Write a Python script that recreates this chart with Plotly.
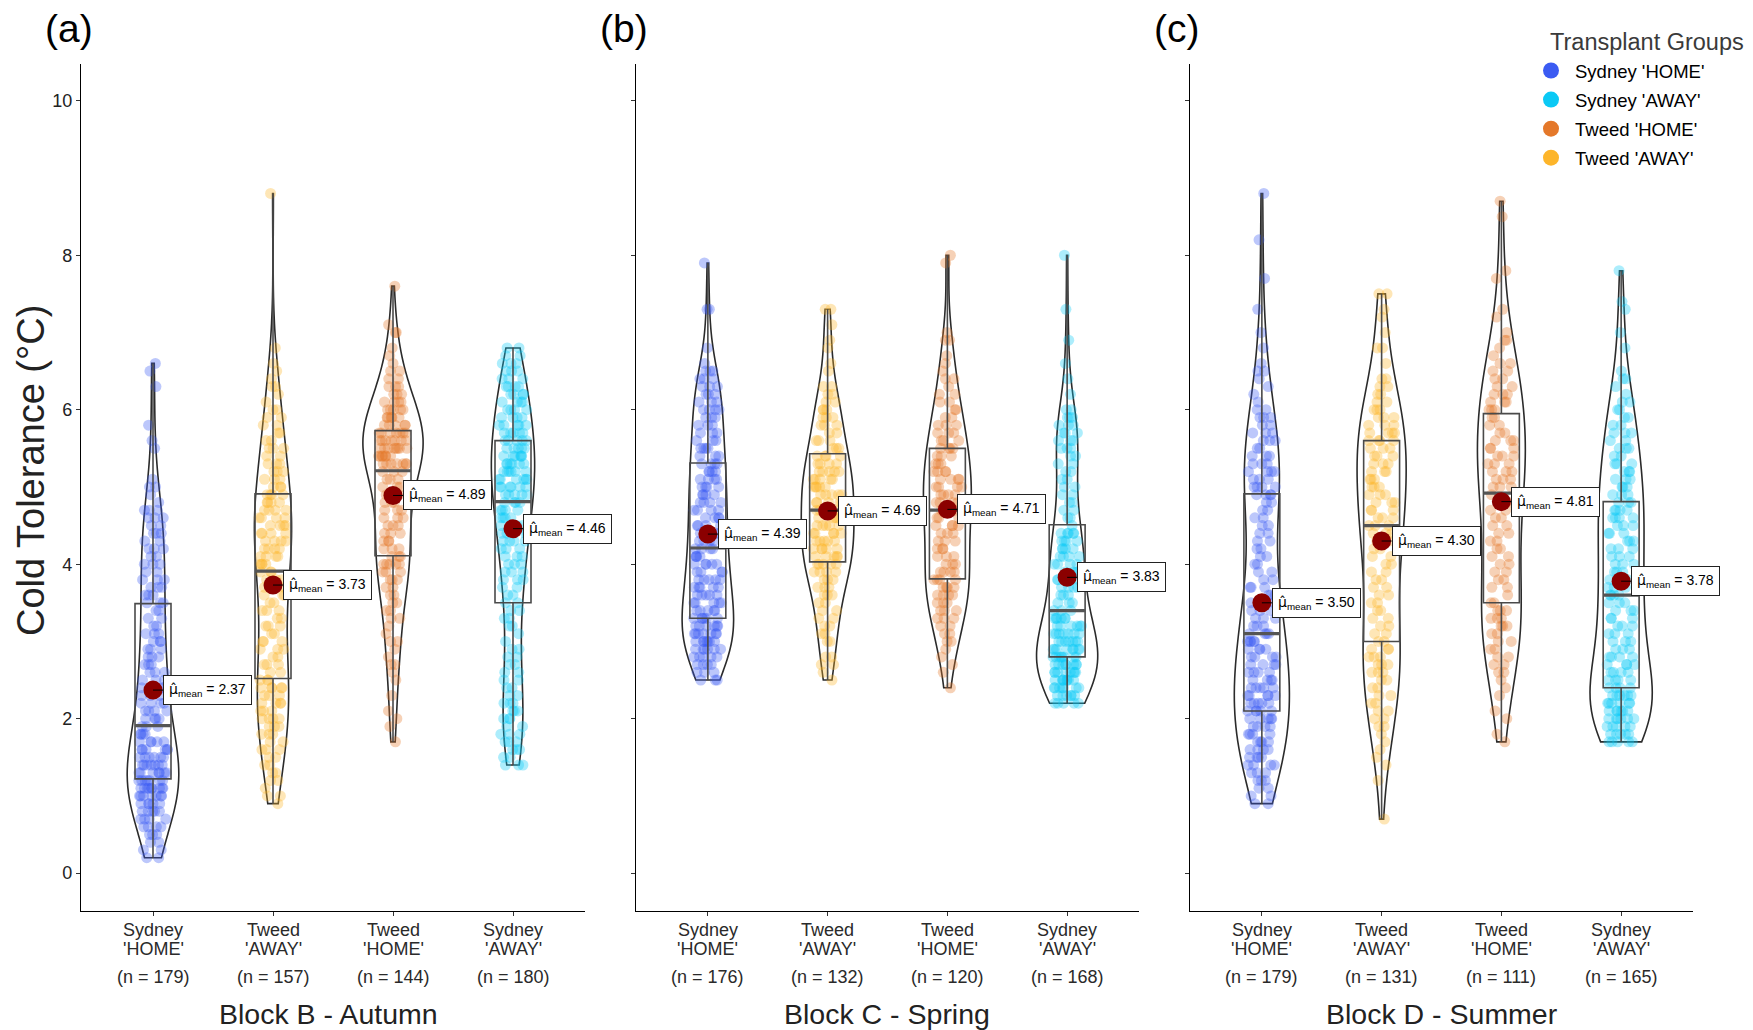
import numpy as np
import plotly.graph_objects as go

W, H = 1753, 1030
FONT = "Liberation Sans, Arial, sans-serif"

PLACES = ["Sydney", "Tweed", "Tweed", "Sydney"]
STATUSES = ["'HOME'", "'AWAY'", "'HOME'", "'AWAY'"]
BLOCK_TITLES = ["Block B - Autumn", "Block C - Spring", "Block D - Summer"]
PANEL_TAGS = ["(a)", "(b)", "(c)"]
LEGEND_TITLE = "Transplant Groups"
LEGEND_GROUPS = ["Sydney 'HOME'", "Sydney 'AWAY'", "Tweed 'HOME'", "Tweed 'AWAY'"]
GROUP_COLORS = ["#3B5BF2", "#0BC9F5", "#E4782A", "#FDB52A"]

# Cold tolerance (°C) recorded at 0.1 °C steps: lowest reading per group,
# then the number of plants at each successive 0.1 °C step.
autumn_starts = [0.2, 0.9, 1.7, 1.4]
autumn_sydney_home = [2, 2, 2, 3, 4, 4, 5, 5, 7, 9, 7, 7, 7, 6, 6, 5, 4, 3, 4, 4, 4, 3, 3, 3, 3, 3, 3, 3, 3, 3,
                      2, 2, 2, 3, 3, 3, 3, 2, 3, 2, 3, 2, 3, 2, 3, 3, 1, 1, 2, 1, 0, 0, 0, 1, 1, 0, 1, 0, 0, 0,
                      0, 1, 0, 1, 1]
autumn_tweed_away = [1, 2, 1, 2, 2, 2, 2, 3, 2, 3, 3, 4, 3, 4, 3, 5, 3, 2, 3, 2, 3, 3, 2, 3, 2, 3, 2, 3, 2, 3,
                     3, 4, 4, 4, 4, 4, 4, 4, 4, 4, 4, 3, 3, 3, 3, 2, 3, 2, 2, 2, 2, 2, 1, 1, 2, 1, 1, 1, 0, 1,
                     0, 0, 0, 0, 0, 0, 0, 0, 0, 0, 0, 0, 0, 0, 0, 0, 0, 0, 0, 1]
autumn_tweed_home = [1, 0, 1, 1, 1, 0, 1, 0, 1, 1, 2, 1, 1, 2, 1, 1, 2, 2, 2, 2, 2, 3, 3, 5, 3, 3, 3, 3, 3, 3,
                     3, 3, 3, 3, 3, 3, 7, 7, 8, 7, 7, 5, 5, 5, 4, 3, 3, 2, 2, 1, 1, 1, 0, 2, 1, 0, 0, 0, 0, 1]
autumn_sydney_away = [3, 2, 3, 3, 3, 2, 3, 3, 3, 2, 2, 2, 2, 2, 2, 2, 1, 1, 2, 2, 2, 2, 2, 2, 3, 3, 3, 3, 3, 4,
                      4, 4, 4, 4, 4, 5, 6, 6, 6, 6, 6, 5, 5, 5, 5, 4, 4, 4, 4, 4, 3, 3, 3, 2, 2]

spring_starts = [2.5, 2.5, 2.4, 2.2]
spring_sydney_home = [3, 3, 4, 5, 6, 7, 7, 6, 6, 5, 5, 5, 5, 5, 4, 5, 4, 4, 4, 4, 4, 4, 4, 4, 4, 4, 4, 4, 4, 3,
                      4, 3, 3, 3, 3, 4, 3, 3, 3, 3, 3, 1, 0, 1, 0, 0, 0, 0, 2, 0, 0, 0, 0, 0, 1]
spring_tweed_away = [1, 1, 2, 2, 0, 2, 2, 2, 2, 2, 2, 3, 3, 3, 4, 5, 5, 5, 5, 5, 5, 4, 4, 5, 5, 5, 5, 5, 4, 4,
                     3, 3, 2, 3, 3, 3, 2, 2, 2, 0, 1, 1, 0, 1, 1, 0, 1, 0, 2]
spring_tweed_home = [1, 0, 1, 1, 1, 1, 2, 2, 2, 3, 3, 3, 4, 4, 4, 4, 3, 3, 3, 3, 3, 4, 3, 4, 4, 4, 4, 4, 4, 3,
                     3, 4, 3, 3, 3, 2, 2, 2, 2, 1, 2, 1, 1, 1, 0, 2, 1, 0, 0, 0, 0, 0, 0, 0, 0, 1, 1]
spring_sydney_away = [5, 6, 7, 8, 8, 8, 8, 8, 7, 7, 6, 6, 3, 3, 3, 4, 4, 4, 4, 4, 4, 4, 5, 1, 2, 2, 2, 2, 2, 2,
                      2, 2, 2, 3, 3, 3, 3, 3, 2, 0, 1, 0, 1, 0, 1, 0, 0, 1, 0, 0, 0, 1, 0, 0, 0, 0, 0, 0, 1]

summer_starts = [0.9, 0.7, 1.7, 1.7]
summer_sydney_home = [2, 2, 2, 3, 3, 4, 4, 4, 4, 4, 4, 5, 5, 5, 5, 5, 4, 4, 4, 4, 4, 5, 4, 3, 3, 3, 3, 3, 3, 2,
                      2, 2, 2, 2, 2, 2, 2, 2, 2, 2, 4, 4, 3, 4, 3, 3, 2, 3, 3, 2, 3, 2, 1, 1, 1, 1, 2, 1, 0, 1,
                      0, 1, 0, 0, 1, 0, 0, 0, 1, 0, 0, 0, 0, 1, 0, 0, 0, 0, 0, 1]
summer_tweed_away = [1, 0, 0, 0, 0, 1, 0, 1, 1, 1, 1, 1, 2, 2, 2, 2, 2, 2, 2, 3, 3, 3, 3, 2, 2, 2, 2, 2, 2, 2,
                     2, 2, 2, 2, 2, 2, 3, 3, 3, 3, 3, 3, 3, 3, 3, 3, 3, 3, 3, 4, 4, 3, 3, 3, 2, 2, 2, 2, 0, 1,
                     0, 2, 0, 1, 0, 1, 1, 0, 2]
summer_tweed_home = [1, 1, 0, 1, 1, 0, 1, 1, 1, 2, 2, 2, 2, 2, 2, 3, 3, 3, 2, 1, 2, 2, 2, 2, 2, 2, 2, 2, 2, 2,
                     2, 2, 1, 3, 3, 3, 3, 3, 3, 3, 2, 2, 2, 3, 3, 3, 2, 2, 2, 2, 1, 1, 2, 1, 0, 1, 1, 0, 0, 0,
                     1, 1, 0, 0, 0, 0, 0, 0, 1, 0, 1]
summer_sydney_away = [5, 5, 5, 6, 6, 6, 6, 4, 4, 4, 4, 4, 3, 3, 3, 3, 3, 3, 3, 4, 3, 3, 3, 3, 3, 3, 3, 3, 3, 4,
                      4, 3, 3, 3, 3, 3, 3, 2, 3, 2, 3, 2, 2, 2, 2, 1, 1, 2, 1, 0, 0, 1, 0, 1, 0, 0, 1, 1, 0, 0,
                      0, 1]

# Box summaries (°C) for each group, in plotting order
autumn_q1 = [1.22, 2.52, 4.11, 3.50]
autumn_median = [1.91, 3.91, 5.21, 4.81]
autumn_q3 = [3.49, 4.91, 5.73, 5.60]
spring_q1 = [3.30, 4.03, 3.81, 2.80]
spring_median = [4.21, 4.70, 4.70, 3.40]
spring_q3 = [5.31, 5.43, 5.50, 4.51]
summer_q1 = [2.10, 3.00, 3.50, 2.40]
summer_median = [3.10, 4.50, 4.92, 3.60]
summer_q3 = [4.91, 5.60, 5.95, 4.81]

# Group means (°C)
autumn_means = [2.37, 3.73, 4.89, 4.46]
spring_means = [4.39, 4.69, 4.71, 3.83]
summer_means = [3.50, 4.30, 4.81, 3.78]

# Violin widths in category units
autumn_violin_width = [0.43, 0.31, 0.50, 0.36]
spring_violin_width = [0.43, 0.44, 0.40, 0.51]
summer_violin_width = [0.46, 0.41, 0.40, 0.52]

Y_TICKS = [0, 2, 4, 6, 8, 10]


def expand(start, counts):
    levels = np.round(start + 0.1 * np.arange(len(counts)), 1)
    return np.repeat(levels, counts)


def px_x(x):
    return x / W


def px_y(y):
    return 1 - y / H


panels = [
    dict(starts=autumn_starts,
         counts=[autumn_sydney_home, autumn_tweed_away, autumn_tweed_home, autumn_sydney_away],
         q1=autumn_q1, median=autumn_median, q3=autumn_q3, means=autumn_means,
         widths=autumn_violin_width),
    dict(starts=spring_starts,
         counts=[spring_sydney_home, spring_tweed_away, spring_tweed_home, spring_sydney_away],
         q1=spring_q1, median=spring_median, q3=spring_q3, means=spring_means,
         widths=spring_violin_width),
    dict(starts=summer_starts,
         counts=[summer_sydney_home, summer_tweed_away, summer_tweed_home, summer_sydney_away],
         q1=summer_q1, median=summer_median, q3=summer_q3, means=summer_means,
         widths=summer_violin_width),
]

X_DOMAINS = [[px_x(81), px_x(585)], [px_x(636), px_x(1139)], [px_x(1190), px_x(1693)]]
TITLE_SHIFT = [-5, 0, 0]
Y_DOMAIN = [px_y(911), px_y(63.7)]
Y_RANGE = [-0.49, 10.48]
X_RANGE = [0.4, 4.6]
BOX_WIDTH = 0.3
MU_HAT = "<span style=\"font-family:'DejaVu Sans'\">\u03bc\u0302</span>"

color_of = dict(zip(LEGEND_GROUPS, GROUP_COLORS))

fig = go.Figure()
annotations = []

for p, panel in enumerate(panels):
    sfx = "" if p == 0 else str(p + 1)
    xa, ya = "x" + sfx, "y" + sfx
    for g in range(4):
        vals = expand(panel["starts"][g], panel["counts"][g])
        group = f"{PLACES[g]} {STATUSES[g]}"
        col = color_of[group]
        pos = g + 1
        w = panel["widths"][g]
        sd = vals.std(ddof=1)
        iqr = np.subtract(*np.percentile(vals, [75, 25]))
        bw = 0.9 * min(sd, iqr / 1.34) * len(vals) ** -0.2

        fig.add_trace(go.Violin(
            x0=pos, y=vals, xaxis=xa, yaxis=ya, orientation="v",
            width=w, scalemode="width", spanmode="hard", bandwidth=bw,
            line=dict(color="#2b2b2b", width=1.6), fillcolor="rgba(255,255,255,0)",
            points="all", pointpos=0, jitter=min(1.0, 0.24 / w),
            marker=dict(color=col, opacity=0.34, size=11, line=dict(width=0)),
            showlegend=False, hoverinfo="skip",
        ))

        fig.add_trace(go.Box(
            x=[pos], q1=[panel["q1"][g]], median=[panel["median"][g]], q3=[panel["q3"][g]],
            lowerfence=[vals.min()], upperfence=[vals.max()], orientation="v",
            xaxis=xa, yaxis=ya, width=BOX_WIDTH, whiskerwidth=0, boxpoints=False,
            line=dict(color="#4a4a4a", width=1.6), fillcolor="rgba(0,0,0,0)",
            showlegend=False, hoverinfo="skip",
        ))

        med = panel["median"][g]
        fig.add_trace(go.Scatter(
            x=[pos - BOX_WIDTH / 2, pos + BOX_WIDTH / 2], y=[med, med], mode="lines",
            line=dict(color="#555555", width=3.2), xaxis=xa, yaxis=ya,
            showlegend=False, hoverinfo="skip",
        ))

        mean = panel["means"][g]
        fig.add_trace(go.Scatter(
            x=[pos], y=[mean], mode="markers",
            marker=dict(color="#8B0000", size=19, line=dict(width=0)),
            xaxis=xa, yaxis=ya, showlegend=False, hoverinfo="skip",
        ))
        annotations.append(dict(
            x=pos, y=mean, xref=xa, yref=ya,
            text=f"{MU_HAT}<sub>mean</sub> = {mean:.2f}",
            showarrow=True, ax=10, ay=0, xanchor="left", yanchor="middle",
            arrowhead=0, arrowwidth=1, arrowcolor="black",
            bordercolor="#222222", borderwidth=1, borderpad=5, bgcolor="white",
            font=dict(family=FONT, size=14, color="black"),
        ))

        # category label beneath the axis
        for txt, yy in ((PLACES[g], 930), (STATUSES[g], 949), (f"(n = {len(vals)})", 977)):
            annotations.append(dict(
                x=pos, y=px_y(yy), xref=xa, yref="paper", text=txt, showarrow=False,
                xanchor="center", yanchor="middle",
                font=dict(family=FONT, size=18, color="#2a2a2a"),
            ))

    dom = X_DOMAINS[p]
    annotations.append(dict(
        x=(dom[0] + dom[1]) / 2 + TITLE_SHIFT[p] / W, y=px_y(1014), xref="paper", yref="paper",
        text=BLOCK_TITLES[p], showarrow=False, xanchor="center", yanchor="middle",
        font=dict(family=FONT, size=28.5, color="#222222"),
    ))
    annotations.append(dict(
        x=dom[0] - 38 / W, y=px_y(29), xref="paper", yref="paper",
        text=PANEL_TAGS[p], showarrow=False, xanchor="left", yanchor="middle",
        font=dict(family=FONT, size=39, color="black"),
    ))

    fig.update_layout(**{
        "xaxis" + sfx: dict(
            domain=dom, range=X_RANGE, anchor=ya, showline=True, linecolor="black",
            linewidth=1.3, ticks="outside", ticklen=4, tickwidth=1.1, tickcolor="#333333",
            tickvals=[1, 2, 3, 4], showticklabels=False, showgrid=False, zeroline=False,
        ),
        "yaxis" + sfx: dict(
            domain=Y_DOMAIN, range=Y_RANGE, anchor=xa, showline=True, linecolor="black",
            linewidth=1.3, ticks="outside", ticklen=4, tickwidth=1.1, tickcolor="#333333",
            tickvals=Y_TICKS, showticklabels=(p == 0), showgrid=False, zeroline=False,
            tickfont=dict(family=FONT, size=18, color="#222222"),
        ),
    })

annotations.append(dict(
    x=px_x(31), y=px_y(471), xref="paper", yref="paper", text="Cold Tolerance (°C)",
    showarrow=False, textangle=-90, xanchor="center", yanchor="middle",
    font=dict(family=FONT, size=38, color="#222222"),
))
annotations.append(dict(
    x=px_x(1548), y=px_y(42), xref="paper", yref="paper", text=LEGEND_TITLE,
    showarrow=False, xanchor="left", yanchor="middle",
    font=dict(family=FONT, size=23.5, color="#3a3a3a"),
))

# legend entries
for name, col in zip(LEGEND_GROUPS, GROUP_COLORS):
    fig.add_trace(go.Scatter(
        x=[None], y=[None], mode="markers", name=name, legendgroup=name,
        marker=dict(color=col, size=16), xaxis="x3", yaxis="y3",
    ))

fig.update_layout(
    width=W, height=H, autosize=False,
    margin=dict(l=0, r=0, t=0, b=0),
    paper_bgcolor="white", plot_bgcolor="white",
    violinmode="overlay", boxmode="overlay",
    annotations=annotations,
    legend=dict(
        x=px_x(1527), y=px_y(52), xanchor="left", yanchor="top",
        bgcolor="rgba(0,0,0,0)", itemsizing="trace", itemwidth=38,
        font=dict(family=FONT, size=18.5, color="black"),
        tracegroupgap=2,
    ),
)

fig.write_html("out.html")
